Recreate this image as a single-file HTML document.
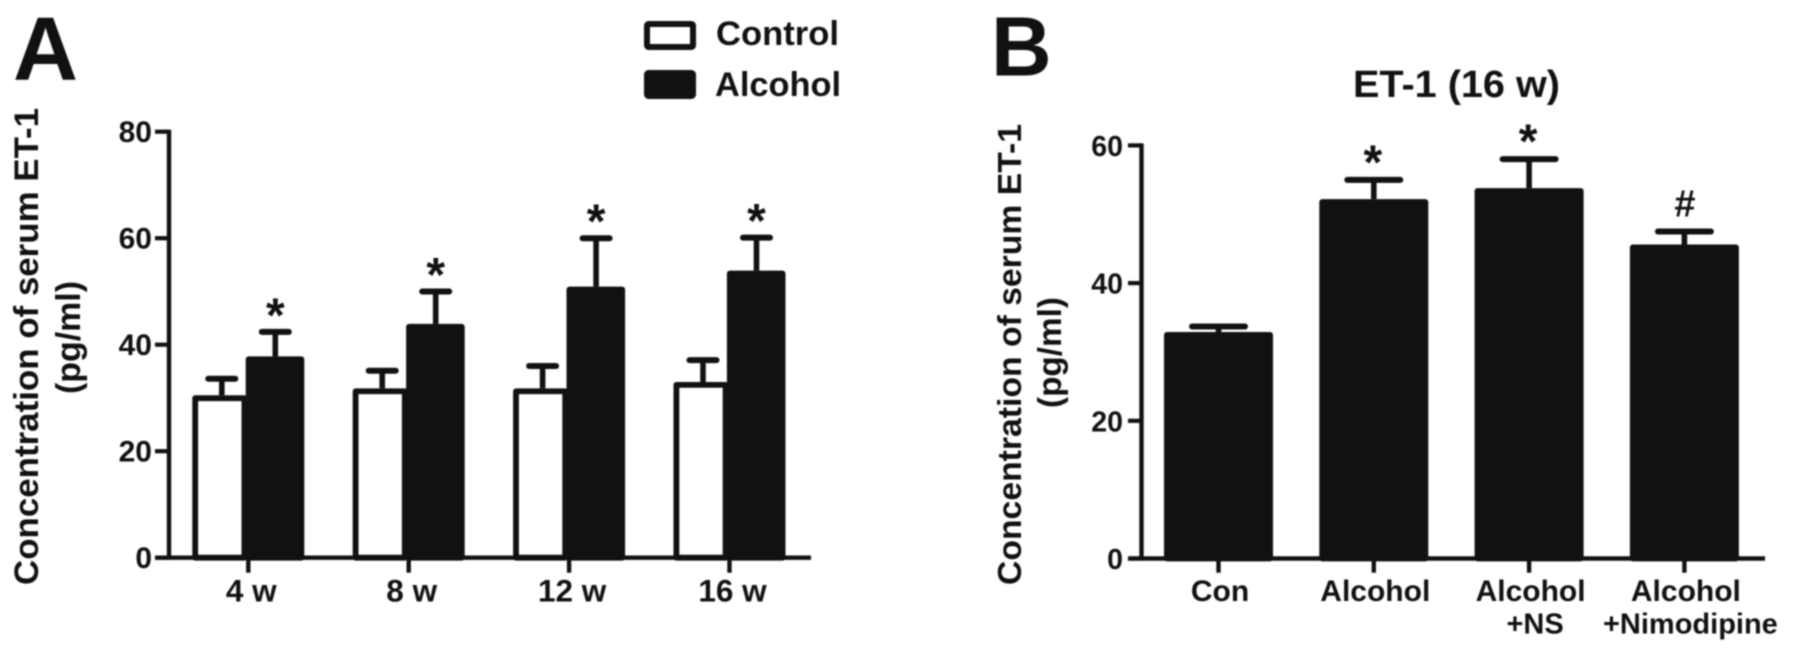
<!DOCTYPE html>
<html lang="en">
<head>
<meta charset="utf-8">
<title>Serum ET-1 concentration</title>
<style>
  html, body { margin: 0; padding: 0; background: #fff; }
  body { width: 1795px; height: 653px; overflow: hidden; }
  svg { display: block; filter: blur(0.7px); }
  text { font-family: "Liberation Sans", Arial, sans-serif; font-weight: 700; fill: #111; }
</style>
</head>
<body>
<svg id="figure" xmlns="http://www.w3.org/2000/svg" width="1795" height="653" viewBox="0 0 1795 653">
  <rect x="0" y="0" width="1795" height="653" fill="#fff"/>

  <text x="13" y="80" font-size="90">A</text>
  <text x="991" y="75.5" font-size="84">B</text>

  <g>
    <rect x="647" y="24" width="46" height="23" rx="1.5" fill="#fff" stroke="#111" stroke-width="6"/>
    <text x="716" y="45" font-size="34" textLength="123" lengthAdjust="spacingAndGlyphs">Control</text>
    <rect x="647" y="73" width="46" height="23" rx="1.5" fill="#111" stroke="#111" stroke-width="6"/>
    <text x="715" y="96" font-size="34" textLength="126" lengthAdjust="spacingAndGlyphs">Alcohol</text>
  </g>

  <text transform="translate(38,585) rotate(-90)" font-size="34.5" textLength="477" lengthAdjust="spacingAndGlyphs">Concentration of serum ET-1</text>
  <text transform="translate(80,394) rotate(-90)" font-size="34.5" textLength="113" lengthAdjust="spacingAndGlyphs">(pg/ml)</text>
  <text transform="translate(1021,585) rotate(-90)" font-size="33.5" textLength="461" lengthAdjust="spacingAndGlyphs">Concentration of serum ET-1</text>
  <text transform="translate(1061,408) rotate(-90)" font-size="33.5" textLength="111" lengthAdjust="spacingAndGlyphs">(pg/ml)</text>

  <text x="1353" y="97" font-size="38" textLength="207" lengthAdjust="spacingAndGlyphs">ET-1 (16 w)</text>

  <g id="panel-a"></g>
  <g id="panel-b"></g>
</svg>

<script>
// Panel A data
const weekLabels = ['4 w', '8 w', '12 w', '16 w'];
const controlMeans = [30.5, 31.8, 31.8, 33];
const controlUpper = [33.6, 35.1, 36, 37.1];
const alcoholMeans = [37.8, 43.9, 50.9, 53.9];
const alcoholUpper = [42.4, 50, 60, 60.1];
const alcoholMarks = ['*', '*', '*', '*'];
const yTicksA = [0, 20, 40, 60, 80];

// Panel B data
const groupLabels = ['Con', 'Alcohol', 'Alcohol', 'Alcohol'];
const groupSublabels = ['', '', '+NS', '+Nimodipine'];
const groupMeans = [32.9, 52.2, 53.8, 45.6];
const groupUpper = [33.7, 55, 58, 47.5];
const groupMarks = ['', '*', '*', '#'];
const yTicksB = [0, 20, 40, 60];

const NS = 'http://www.w3.org/2000/svg';
const INK = '#111';

function yScaleA(v) { return 557.7 - v * 5.325; }
function xScaleA(i) { return 248.3 + i * 160.4; }
function yScaleB(v) { return 558.5 - v * 6.885; }
function xScaleB(i) { return 1218.5 + i * 155.3; }

function line(parent, x1, y1, x2, y2, w, name) {
  const el = document.createElementNS(NS, 'line');
  el.setAttribute('x1', x1);
  el.setAttribute('y1', y1);
  el.setAttribute('x2', x2);
  el.setAttribute('y2', y2);
  el.setAttribute('stroke', INK);
  el.setAttribute('stroke-width', w);
  
  
  parent.appendChild(el);
  return el;
}

function label(parent, x, y, str, size, anchor, name) {
  const el = document.createElementNS(NS, 'text');
  el.setAttribute('x', x);
  el.setAttribute('y', y);
  el.setAttribute('font-size', size);
  el.setAttribute('text-anchor', anchor);
  el.textContent = str;
  
  
  parent.appendChild(el);
  return el;
}

function bar(parent, left, right, top, bottom, filled, name) {
  const sw = 5.8;
  const el = document.createElementNS(NS, 'rect');
  el.setAttribute('x', left + sw / 2);
  el.setAttribute('y', top + sw / 2);
  el.setAttribute('width', Math.max(0, right - left - sw));
  el.setAttribute('height', Math.max(0, bottom - top - sw / 2));
  el.setAttribute('fill', filled ? INK : '#fff');
  el.setAttribute('stroke', INK);
  el.setAttribute('stroke-width', sw);
  el.setAttribute('stroke-linejoin', 'round');
  
  
  parent.appendChild(el);
  return el;
}

function errorBar(parent, cx, yMean, yTop, capHalf, name) {
  line(parent, cx, yMean, cx, yTop, 5.6, name + '-stem');
  const cap = line(parent, cx - capHalf, yTop, cx + capHalf, yTop, 6, name + '-cap');
  cap.setAttribute('stroke-linecap', 'round');
}

// ----- Panel A -----
const panelA = document.getElementById('panel-a');
weekLabels.forEach(function (wk, i) {
  const c = xScaleA(i);
  errorBar(panelA, c - 26.5, yScaleA(controlMeans[i]), yScaleA(controlUpper[i]), 13.5, 'control-error-' + i);
  errorBar(panelA, c + 27, yScaleA(alcoholMeans[i]), yScaleA(alcoholUpper[i]), 13.5, 'alcohol-error-' + i);
  bar(panelA, c - 56, c - 1, yScaleA(controlMeans[i]), yScaleA(0), false, 'bar-control-' + i);
  bar(panelA, c - 2.6, c + 56, yScaleA(alcoholMeans[i]), yScaleA(0), true, 'bar-alcohol-' + i);
  label(panelA, c + 27, yScaleA(alcoholUpper[i]) - 0.5, alcoholMarks[i], 48, 'middle', 'significance-mark-a-' + i);
  line(panelA, c, yScaleA(0), c, 572.7, 4.4, 'x-tick-a-' + i);
  label(panelA, c + 3, 601.5, wk, 31.5, 'middle', 'x-tick-label-a-' + i);
});
line(panelA, 155, yScaleA(0), 811, yScaleA(0), 4.4, 'x-axis-a');
line(panelA, 169, yScaleA(80) - 2, 169, yScaleA(0), 4.4, 'y-axis-a');
yTicksA.forEach(function (t) {
  line(panelA, 155, yScaleA(t), 169, yScaleA(t), 4.2, 'y-tick-a-' + t);
  label(panelA, 152, yScaleA(t) + 10.5, String(t), 30, 'end', 'y-tick-label-a-' + t);
});

// ----- Panel B -----
const panelB = document.getElementById('panel-b');
groupLabels.forEach(function (g, i) {
  const c = xScaleB(i);
  errorBar(panelB, c, yScaleB(groupMeans[i]), yScaleB(groupUpper[i]), 26.5, 'group-error-' + i);
  bar(panelB, c - 54.5, c + 54.5, yScaleB(groupMeans[i]), yScaleB(0), true, 'bar-group-' + i);
  line(panelB, c, yScaleB(0), c, 572.7, 4.4, 'x-tick-b-' + i);
  label(panelB, c + 1.5, 601, g, 30, 'middle', 'x-tick-label-b-' + i);
  if (groupSublabels[i]) {
    label(panelB, c + 6, 633.3, groupSublabels[i], 29, 'middle', 'x-tick-sublabel-b-' + i);
  }
  if (groupMarks[i] === '*') {
    label(panelB, c - 1, yScaleB(groupUpper[i]) - 1.5, '*', 48, 'middle', 'significance-mark-b-' + i);
  } else if (groupMarks[i]) {
    label(panelB, c + 0.5, yScaleB(groupUpper[i]) - 15, groupMarks[i], 38, 'middle', 'significance-mark-b-' + i);
  }
});
line(panelB, 1128, yScaleB(0), 1765, yScaleB(0), 4.4, 'x-axis-b');
line(panelB, 1141.5, yScaleB(60) - 2, 1141.5, yScaleB(0), 4.4, 'y-axis-b');
yTicksB.forEach(function (t) {
  line(panelB, 1128, yScaleB(t), 1141.5, yScaleB(t), 4.2, 'y-tick-b-' + t);
  label(panelB, 1123, yScaleB(t) + 10.5, String(t), 28.5, 'end', 'y-tick-label-b-' + t);
});
</script>
</body>
</html>
